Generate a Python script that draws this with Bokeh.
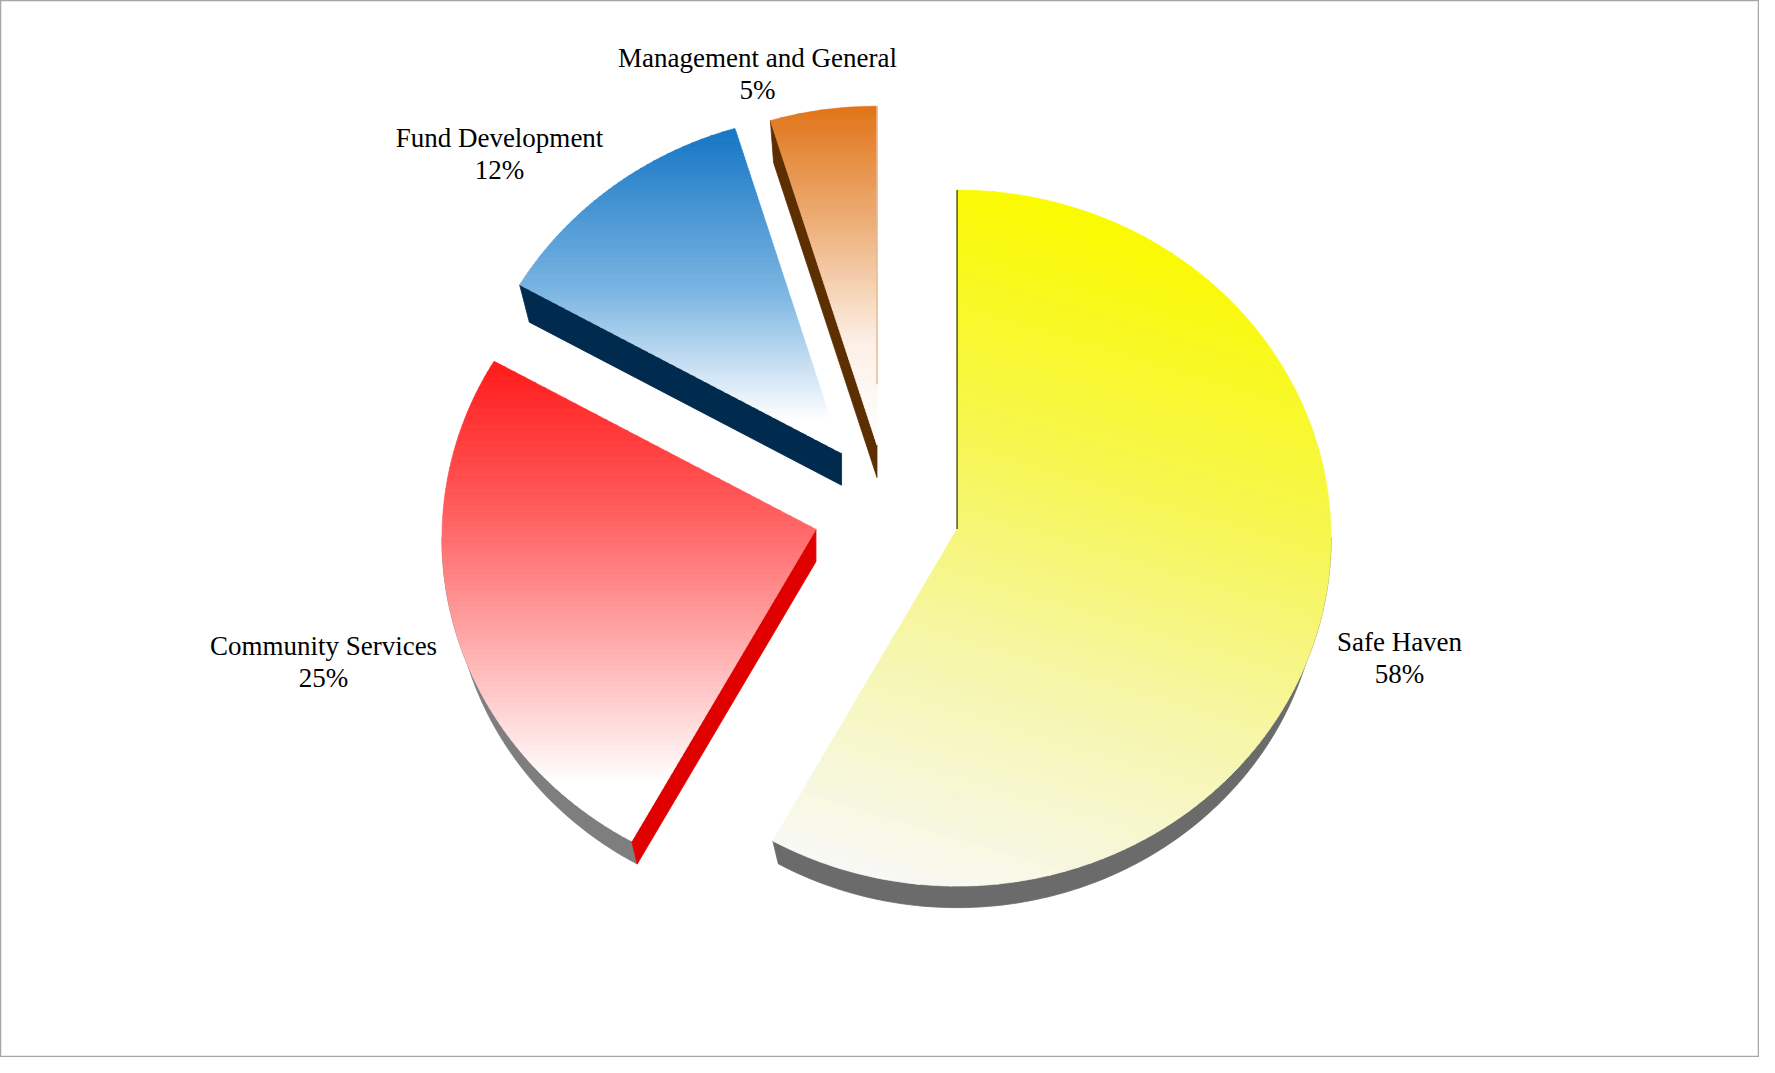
import numpy as np
from bokeh.plotting import figure
from bokeh.models import Range1d
from bokeh.embed import file_html
from bokeh.resources import INLINE
from bokeh.core.properties import value

# ---------------- data ----------------
categories = ["Safe Haven", "Community Services", "Fund Development", "Management and General"]
shares = [58.2, 25.3, 11.9, 4.6]          # percent of total (labels show rounded values)
pct_labels = ["%d%%" % int(s + 0.5) for s in shares]

# ---------------- styles / layout ----------------
grad_stops = [
    [(0.0, "#fafa00"), (0.35, "#f6f650"), (0.65, "#f6f6a8"), (1.0, "#f8f8f6")],
    [(0.0, "#ff1a1a"), (0.3, "#ff5a5a"), (0.62, "#ffb4b4"), (0.88, "#ffffff"), (1.0, "#ffffff")],
    [(0.0, "#1575c5"), (0.5, "#7ab5e2"), (0.9, "#ffffff"), (1.0, "#ffffff")],
    [(0.0, "#e07418"), (0.35, "#eeb07a"), (0.7, "#fdf0e8"), (1.0, "#ffffff")],
]
grad_dirs = [(-0.3, 1.0), (0.0, 1.0), (0.0, 1.0), (0.0, 1.0)]
arc_side_colors = ["#6b6b6b", "#7e7e7e", "#404040", "#404040"]
edge_side_colors = ["#555533", "#e00000", "#002a4e", "#5c2e00"]
rim_colors = [None, None, None, "#ecb890"]   # faint light rim on right edge
explode = [73, 73, 73, 66]
label_pos = [(1399, 641), (323, 645), (499, 137), (757, 57)]
LINE_GAP = 32
CX, CY = 886, 510
RX, RY = 374, 348
OFF = 9          # ellipse centre sits a little below the slice tip (perspective)
DEPTH = 32
KBOT = 0.97      # bottom face slightly smaller (perspective)
NBANDS = 90

W, H = 1759, 1057
p = figure(width=W, height=H, x_range=Range1d(0, W), y_range=Range1d(H, 0),
           output_backend="svg", toolbar_location=None, min_border=0,
           x_axis_type=None, y_axis_type=None)
p.grid.visible = False
p.outline_line_color = "#a6a6a6"
p.outline_line_width = 1.5
p.background_fill_color = "white"
p.border_fill_color = "white"


def hex2rgb(h):
    h = h.lstrip("#")
    return np.array([int(h[i:i + 2], 16) for i in (0, 2, 4)], dtype=float)


def color_at(stops, t):
    t = min(max(t, 0.0), 1.0)
    for (t0, c0), (t1, c1) in zip(stops[:-1], stops[1:]):
        if t <= t1:
            f = 0 if t1 == t0 else (t - t0) / (t1 - t0)
            c = hex2rgb(c0) * (1 - f) + hex2rgb(c1) * f
            return "#%02x%02x%02x" % tuple(int(round(v)) for v in c)
    return stops[-1][1]


def clip(poly, d, c, keep_ge):
    out = []
    n = len(poly)
    for i in range(n):
        P = poly[i]
        Q = poly[(i + 1) % n]
        fp = P[0] * d[0] + P[1] * d[1] - c
        fq = Q[0] * d[0] + Q[1] * d[1] - c
        if not keep_ge:
            fp, fq = -fp, -fq
        if fp >= 0:
            out.append(P)
        if (fp >= 0) != (fq >= 0):
            t = fp / (fp - fq)
            out.append((P[0] + t * (Q[0] - P[0]), P[1] + t * (Q[1] - P[1])))
    return out


def arc_pts(cx, cy, a0, a1, n=None):
    if n is None:
        n = max(2, int(abs(a1 - a0)) + 1)
    angs = np.radians(np.linspace(a0, a1, n))
    return [(cx + RX * np.cos(a), cy - RY * np.sin(a)) for a in angs]


def to_bottom(pt, cx, cy):
    return (cx + KBOT * (pt[0] - cx), cy + KBOT * (pt[1] - cy) + DEPTH)


side_xs, side_ys, side_cols = [], [], []
top_xs, top_ys, top_cols = [], [], []
edge_lines = []
rim_lines = []

start = 90.0
for i, s in enumerate(shares):
    a_start = start
    a_end = start - s * 3.6
    start = a_end
    mid = np.radians((a_start + a_end) / 2)
    ax = CX + explode[i] * np.cos(mid)
    ay = CY - explode[i] * np.sin(mid)
    cx, cy = ax, ay + OFF

    # arc side (bottom half of ellipse)
    for lo_b, hi_b in [(-180, 0), (-540, -360), (180, 360)]:
        lo = max(a_end, lo_b)
        hi = min(a_start, hi_b)
        if hi - lo > 0.5:
            top_arc = arc_pts(cx, cy, lo, hi)
            bot_arc = [to_bottom(q, cx, cy) for q in top_arc]
            poly = top_arc + list(reversed(bot_arc))
            side_xs.append([q[0] for q in poly])
            side_ys.append([q[1] for q in poly])
            side_cols.append(arc_side_colors[i])

    # straight edge sides
    apex = (ax, ay)
    apex_b = to_bottom(apex, cx, cy)
    for ang, nrm in [(a_start, a_start + 90), (a_end, a_end - 90)]:
        e = arc_pts(cx, cy, ang, ang, n=1)[0]
        eb = to_bottom(e, cx, cy)
        sn = np.sin(np.radians(nrm))
        if sn < -0.05:
            poly = [apex, e, eb, apex_b]
            side_xs.append([q[0] for q in poly])
            side_ys.append([q[1] for q in poly])
            side_cols.append(edge_side_colors[i])
        elif abs(sn) <= 0.05 and np.cos(np.radians(nrm)) < 0:
            edge_lines.append(([ax, e[0]], [ay, e[1]], edge_side_colors[i]))
        elif abs(sn) <= 0.05 and rim_colors[i]:
            f = 0.82
            rim_lines.append(([e[0], e[0] + f * (ax - e[0])], [e[1], e[1] + f * (ay - e[1])],
                              rim_colors[i]))

    # top surface with gradient bands
    poly = [apex] + arc_pts(cx, cy, a_start, a_end)
    d = np.array(grad_dirs[i], dtype=float)
    d = d / np.linalg.norm(d)
    proj = [q[0] * d[0] + q[1] * d[1] for q in poly]
    pmin, pmax = min(proj), max(proj)
    edges = np.linspace(pmin, pmax, NBANDS + 1)
    for k in range(NBANDS):
        lo, hi = edges[k], edges[k + 1] + 0.6
        band = clip(poly, d, lo, True)
        if len(band) < 3:
            continue
        band = clip(band, d, hi, False)
        if len(band) < 3:
            continue
        t = (k + 0.5) / NBANDS
        top_xs.append([q[0] for q in band])
        top_ys.append([q[1] for q in band])
        top_cols.append(color_at(grad_stops[i], t))

p.patches(side_xs, side_ys, fill_color=side_cols, line_color=side_cols, line_width=0.8)
p.patches(top_xs, top_ys, fill_color=top_cols, line_color=top_cols, line_width=0.6)
for xs, ys, c in edge_lines:
    p.line(xs, ys, line_color=c, line_width=1.5)
for xs, ys, c in rim_lines:
    p.line(xs, ys, line_color=c, line_width=1.5)

# labels
lx, ly, lt = [], [], []
for i, cat in enumerate(categories):
    x, y = label_pos[i]
    lx += [x, x]
    ly += [y, y + LINE_GAP]
    lt += [cat, pct_labels[i]]
p.text(lx, ly, text=lt, text_align="center", text_baseline="middle",
       text_font=value("Liberation Serif"), text_font_size="27px", text_color="black")

open("out.html", "w").write(file_html(p, INLINE))
